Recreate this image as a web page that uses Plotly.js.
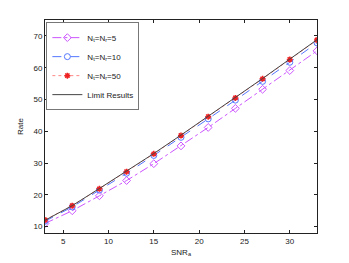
<!DOCTYPE html>
<html><head><meta charset="utf-8">
<script src="https://cdn.plot.ly/plotly-3.0.1.min.js"></script>
<style>body{margin:0;background:#fff}#c{width:349px;height:263px}</style>
</head><body><div id="c"></div>
<script>
var snr = [3,6,9,12,15,18,21,24,27,30,33];
var n5 = [11.0,15.0,19.7,24.5,29.8,35.4,41.2,47.2,53.2,59.1,65.3];
var n10 = [11.7,16.2,21.5,26.8,32.4,38.1,43.9,49.8,55.7,61.7,67.8];
var n50 = [12.1,16.6,21.9,27.3,32.9,38.7,44.6,50.5,56.5,62.6,68.7];
var lim = [12.0,16.6,22.0,27.4,33.0,38.8,44.7,50.6,56.6,62.7,68.8];
var names = ['N<sub>t</sub>=N<sub>r</sub>=5','N<sub>t</sub>=N<sub>r</sub>=10','N<sub>t</sub>=N<sub>r</sub>=50','Limit Results'];

var traces = [
 {x:snr,y:n5,name:names[0],mode:'lines+markers',line:{color:'#cc55ff',width:1,dash:'dashdot'},
  marker:{symbol:'diamond-open',size:6,color:'#cc55ff',line:{width:1}}},
 {x:snr,y:n10,name:names[1],mode:'lines+markers',line:{color:'#5577ff',width:1,dash:'dash'},
  marker:{symbol:'circle-open',size:6,color:'#5577ff',line:{width:1}}},
 {x:snr,y:n50,name:names[2],mode:'lines+markers',line:{color:'#ff8888',width:1,dash:'dot'},
  marker:{symbol:'asterisk-open',size:5,color:'#ee2222',line:{width:1.5}}},
 {x:snr,y:lim,name:names[3],mode:'lines',line:{color:'#444444',width:1}}
];
var ax = {showgrid:false,zeroline:false,ticks:'inside',ticklen:3,mirror:'ticks',showline:true,
  linecolor:'#222',linewidth:1,tickcolor:'#222',tickfont:{size:8,color:'#222'}};
var layout = {
 width:349,height:263,margin:{l:45,r:32,t:20,b:30},
 paper_bgcolor:'#fff',plot_bgcolor:'#fff',
 font:{family:'Liberation Sans, Arial, sans-serif',size:8,color:'#222'},
 showlegend:true,
 legend:{x:0.005,y:0.99,xanchor:'left',yanchor:'top',bgcolor:'#fff',bordercolor:'#777',borderwidth:1,
   font:{size:8},tracegroupgap:0,itemwidth:30},
 xaxis:Object.assign({},ax,{range:[3,33],tickvals:[5,10,15,20,25,30],
   title:{text:'SNR<sub>a</sub>',font:{size:8},standoff:4}}),
 yaxis:Object.assign({},ax,{range:[8,75],tickvals:[10,20,30,40,50,60,70],
   title:{text:'Rate',font:{size:8},standoff:8}})
};
Plotly.newPlot('c',traces,layout,{staticPlot:true});
</script></body></html>
